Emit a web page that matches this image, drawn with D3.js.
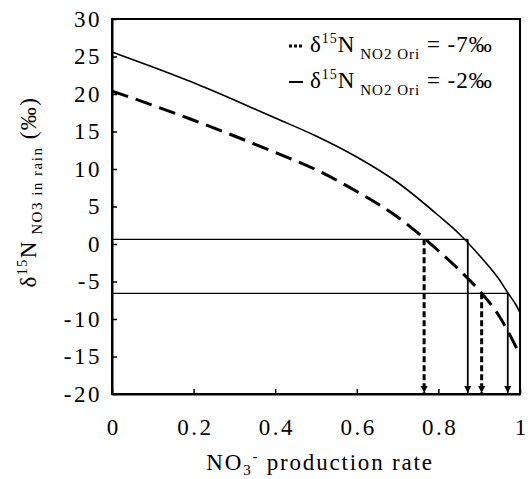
<!DOCTYPE html>
<html><head><meta charset="utf-8">
<script src="https://cdn.jsdelivr.net/npm/d3@7"></script>
<style>
body{margin:0;background:#fff;}
svg text{font-family:"Liberation Serif","Times New Roman",serif !important;fill:#000;white-space:pre;}
</style></head>
<body><svg id="c" width="528" height="479"></svg>
<script>
const fraction = [0, 0.1, 0.2, 0.3, 0.4, 0.5, 0.6, 0.7, 0.8, 0.85, 0.9, 0.95, 0.97, 0.99, 1.0];
const orig2 = [25.6, 23.6, 21.5, 19.2, 16.8, 14.4, 11.6, 8.2, 3.8, 1.4, -1.5, -4.8, -6.5, -8.1, -9.15];
const orig7 = [20.4, 18.5, 16.5, 14.4, 12.2, 9.9, 7.0, 3.6, -0.9, -3.4, -6.2, -9.7, -11.6, -13.7, -14.8];
const xTicks = [0, 0.2, 0.4, 0.6, 0.8, 1];
const yTicks = [30, 25, 20, 15, 10, 5, 0, -5, -10, -15, -20];
const levels = [0.63, -6.57];
const arrowsSolid = [[0.872, 0.63], [0.97, -6.57]];
const arrowsDashed = [[0.765, 0.63], [0.906, -6.57]];

const svg = d3.select("#c");
const L = 112, R = 520, T = 19, B = 394;
const x = d3.scaleLinear().domain([0, 1]).range([L, R]);
const y = d3.scaleLinear().domain([-20, 30]).range([B, T]);
const SERIF = '"Liberation Serif","Times New Roman",serif';

svg.append("defs").append("marker").attr("id", "ah")
  .attr("viewBox", "0 0 10 10").attr("refX", 10).attr("refY", 5)
  .attr("markerWidth", 7).attr("markerHeight", 8).attr("markerUnits", "userSpaceOnUse")
  .attr("orient", "auto")
  .append("path").attr("d", "M0,0L10,5L0,10Z").attr("fill", "#000");

// axes
const ya = svg.append("g").attr("transform", `translate(${L},0)`)
  .call(d3.axisLeft(y).tickValues(yTicks).tickSize(-5).tickSizeOuter(0).tickPadding(10).tickFormat(d => String(d)));
const xa = svg.append("g").attr("transform", `translate(0,${B})`)
  .call(d3.axisBottom(x).tickValues(xTicks).tickSize(-5).tickSizeOuter(0).tickPadding(25).tickFormat(d => String(d)));
[ya, xa].forEach(g => {
  g.attr("font-family", SERIF);
  g.selectAll("text").style("font-family", SERIF).style("font-size", "23px").style("letter-spacing", "2.5px");
  g.selectAll("line").attr("stroke-width", 1.5);
  g.select(".domain").attr("stroke-width", 2);
});
xa.selectAll("text").attr("dx", 1.25);
svg.append("rect").attr("x", L).attr("y", T).attr("width", R - L).attr("height", B - T)
  .attr("fill", "none").attr("stroke", "#000").attr("stroke-width", 2);

// horizontal reference lines
levels.forEach((lv, i) => {
  svg.append("line").attr("x1", x(0)).attr("x2", x(arrowsSolid[i][0]))
    .attr("y1", y(lv)).attr("y2", y(lv)).attr("stroke", "#000").attr("stroke-width", 1.2);
});

// curves
const line = d3.line().x((d, i) => x(fraction[i])).y(d => y(d)).curve(d3.curveMonotoneX);
svg.append("path").attr("d", line(orig2)).attr("fill", "none").attr("stroke", "#000").attr("stroke-width", 1.6);
svg.append("path").attr("d", line(orig7)).attr("fill", "none").attr("stroke", "#000").attr("stroke-width", 3)
  .attr("stroke-dasharray", "17,8");

// arrows
arrowsSolid.forEach(a => {
  svg.append("line").attr("x1", x(a[0])).attr("x2", x(a[0])).attr("y1", y(a[1])).attr("y2", y(-20) - 1)
    .attr("stroke", "#000").attr("stroke-width", 1.8).attr("marker-end", "url(#ah)");
});
arrowsDashed.forEach(a => {
  svg.append("line").attr("x1", x(a[0])).attr("x2", x(a[0])).attr("y1", y(a[1])).attr("y2", y(-20) - 1)
    .attr("stroke", "#000").attr("stroke-width", 3).attr("stroke-dasharray", "6,3").attr("marker-end", "url(#ah)");
});

// legend
const lg = [{t: "-7‰", dash: "3,2", sw: 3, yy: 52}, {t: "-2‰", dash: null, sw: 2, yy: 88}];
lg.forEach(d => {
  const ln = svg.append("line").attr("x1", 289).attr("x2", 303).attr("y1", d.yy - 6).attr("y2", d.yy - 6)
    .attr("stroke", "#000").attr("stroke-width", d.sw);
  if (d.dash) ln.attr("stroke-dasharray", d.dash);
  const t = svg.append("text").attr("x", 310).attr("y", d.yy).style("font-size", "23px").style("letter-spacing", "1px");
  t.append("tspan").text("δ");
  t.append("tspan").style("font-size", "14px").attr("dy", -9).text("15");
  t.append("tspan").attr("dy", 9).text("N");
  t.append("tspan").style("font-size", "15px").attr("dy", 7).text("\u00a0NO2 Ori");
  t.append("tspan").attr("dy", -7).text("\u00a0=\u00a0" + d.t);
});

// x label
const xl = svg.append("text").attr("x", 320).attr("y", 470).attr("text-anchor", "middle")
  .style("font-size", "23px").style("letter-spacing", "1.8px");
xl.append("tspan").text("NO");
xl.append("tspan").style("font-size", "15px").attr("dy", 5).text("3");
xl.append("tspan").style("font-size", "15px").attr("dy", -14).text("-");
xl.append("tspan").attr("dy", 9).text("\u00a0production rate");

// y label
const yl = svg.append("text").attr("transform", "translate(36,192) rotate(-90)").attr("text-anchor", "middle")
  .style("font-size", "23px").style("letter-spacing", "1.5px");
yl.append("tspan").text("δ");
yl.append("tspan").style("font-size", "14px").attr("dy", -9).text("15");
yl.append("tspan").attr("dy", 9).text("N");
yl.append("tspan").style("font-size", "15px").attr("dy", 6).text("\u00a0NO3 in rain");
yl.append("tspan").attr("dy", -6).text("\u00a0(‰)");
</script></body></html>
